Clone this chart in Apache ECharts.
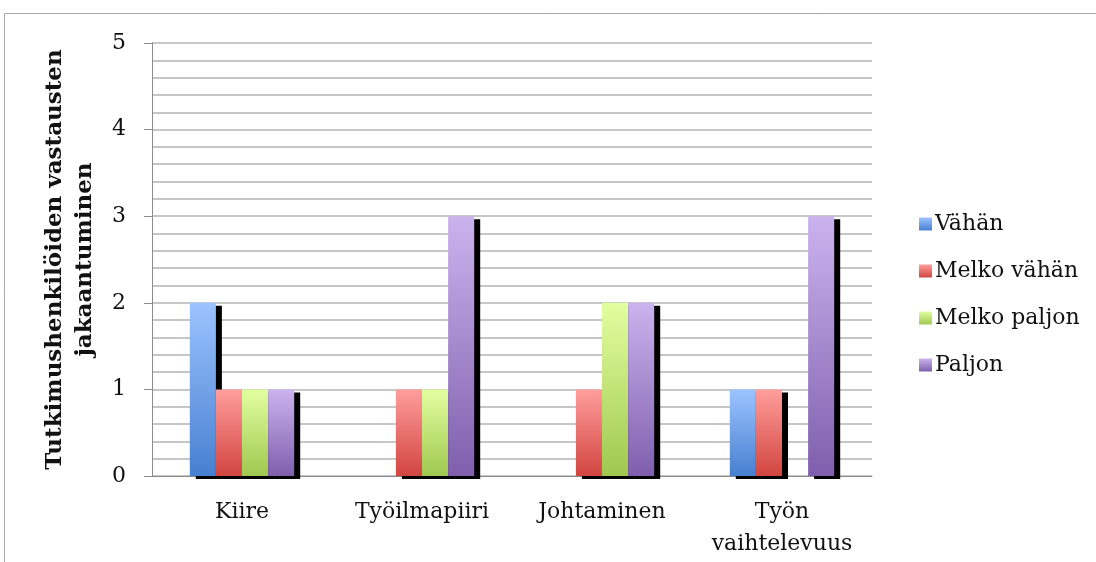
<!DOCTYPE html>
<html>
<head>
<meta charset="utf-8">
<style>
  html, body { margin: 0; padding: 0; background: #fff; }
  #chart { width: 1096px; height: 562px; }
</style>
<script src="https://cdn.jsdelivr.net/npm/echarts@6/dist/echarts.min.js"></script>
</head>
<body>
<div id="chart"></div>
<script>
// Categories (x axis) and answer counts per response level
const categories = ['Kiire', 'Työilmapiiri', 'Johtaminen', 'Työn\nvaihtelevuus'];
const seriesNames = ['Vähän', 'Melko vähän', 'Melko paljon', 'Paljon'];
const vahan       = [2, 0, 0, 1];
const melkoVahan  = [1, 1, 1, 1];
const melkoPaljon = [1, 1, 2, 0];
const paljon      = [1, 3, 2, 3];
const yTicks = [0, 1, 2, 3, 4, 5];
const yTitle = 'Tutkimushenkilöiden vastausten\njakaantuminen';

const values = [vahan, melkoVahan, melkoPaljon, paljon];
// top (light) and bottom (dark) colours of each bar gradient
const gradients = [
  ['#9cc3ff', '#4780d0'],
  ['#ff9e9c', '#d24540'],
  ['#e2ffa0', '#a0c850'],
  ['#cbb3ee', '#7f5fad']
];
const FONT = 'DejaVu Serif';

const chart = echarts.init(document.getElementById('chart'), null, { renderer: 'canvas' });

const series = seriesNames.map((name, i) => ({
  name: name,
  type: 'bar',
  data: values[i],
  barGap: '0%',
  barCategoryGap: '42%',
  clip: false,
  itemStyle: {
    color: new echarts.graphic.LinearGradient(0, 0, 0, 1, [
      { offset: 0, color: gradients[i][0] },
      { offset: 1, color: gradients[i][1] }
    ]),
    shadowColor: '#000',
    shadowBlur: 0,
    shadowOffsetX: 6,
    shadowOffsetY: 3
  },
  emphasis: { disabled: true }
}));

chart.setOption({
  animation: false,
  backgroundColor: '#fff',
  textStyle: { fontFamily: FONT },
  graphic: [{
    type: 'rect',
    shape: { x: 4.5, y: 13.5, width: 1200, height: 600 },
    style: { fill: 'none', stroke: '#a8a8a8', lineWidth: 1 },
    silent: true,
    z: -10
  }],
  grid: { left: 152, right: 224, top: 43, bottom: 86, containLabel: false },
  legend: {
    orient: 'vertical',
    left: 914,
    top: 208,
    itemWidth: 13,
    itemHeight: 13,
    itemGap: 25,
    icon: 'rect',
    data: seriesNames,
    itemStyle: { shadowBlur: 0, shadowOffsetX: 0, shadowOffsetY: 0, shadowColor: 'rgba(0,0,0,0)' },
    textStyle: { fontFamily: FONT, fontSize: 22, color: '#111', lineHeight: 20, padding: [0, 0, 0, -2] }
  },
  xAxis: {
    type: 'category',
    data: categories,
    axisLine: { lineStyle: { color: '#8c8c8c', width: 1 } },
    axisTick: { show: false },
    axisLabel: {
      fontFamily: FONT, fontSize: 22, color: '#111',
      margin: 20, lineHeight: 32, interval: 0
    }
  },
  yAxis: {
    type: 'value',
    min: yTicks[0],
    max: yTicks[yTicks.length - 1],
    interval: 1,
    name: yTitle,
    nameLocation: 'middle',
    nameGap: 52,
    nameTextStyle: { fontFamily: FONT, fontSize: 23, fontWeight: 'bold', color: '#111', lineHeight: 30 },
    axisLine: { show: true, lineStyle: { color: '#8c8c8c', width: 1 } },
    axisTick: { show: true, inside: false, length: 8, lineStyle: { color: '#8c8c8c' } },
    axisLabel: { fontFamily: FONT, fontSize: 22, color: '#111', margin: 26 },
    splitLine: { show: true, lineStyle: { color: '#b4b4b4', width: 1.5 } },
    minorTick: { show: false, splitNumber: 5 },
    minorSplitLine: { show: true, lineStyle: { color: '#b4b4b4', width: 1.5 } }
  },
  series: series
});
</script>
</body>
</html>
